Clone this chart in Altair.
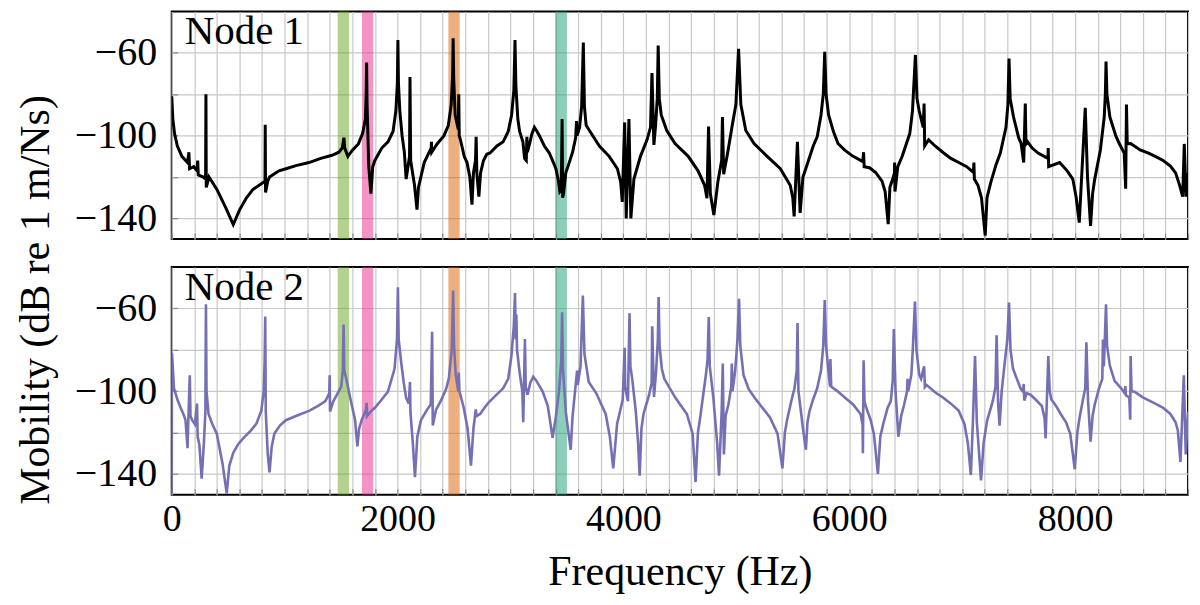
import altair as alt
import pandas as pd

# ---------------- data ----------------
node1_freq = [0, 10, 25, 50, 90, 140, 152, 158, 195, 225, 230, 235, 280, 300, 303, 306, 330, 400, 480, 545,
              600, 662, 720, 800, 826, 828, 831, 850, 866, 950, 1011, 1100, 1216, 1320, 1420, 1480, 1510, 1525, 1532, 1560,
              1600, 1653, 1690, 1715, 1722, 1726, 1730, 1745, 1764, 1780, 1799, 1860, 1915, 1960, 1985, 1998, 2003, 2008, 2020, 2040,
              2060, 2076, 2106, 2110, 2116, 2150, 2172, 2185, 2236, 2280, 2298, 2300, 2303, 2350, 2411, 2450, 2475, 2488, 2492, 2497,
              2510, 2538, 2542, 2546, 2557, 2590, 2615, 2640, 2659, 2672, 2690, 2696, 2702, 2720, 2735, 2761, 2790, 2819, 2880, 2935,
              2980, 3010, 3030, 3040, 3048, 3065, 3081, 3110, 3125, 3140, 3145, 3150, 3169, 3190, 3212, 3235, 3256, 3300, 3344, 3380,
              3402, 3425, 3437, 3450, 3457, 3462, 3470, 3490, 3518, 3550, 3577, 3585, 3590, 3612, 3630, 3645, 3655, 3670, 3699, 3787,
              3874, 3947, 3976, 3990, 4011, 4025, 4049, 4066, 4093, 4151, 4209, 4240, 4253, 4270, 4285, 4300, 4308, 4318, 4335, 4384,
              4457, 4574, 4661, 4719, 4740, 4754, 4770, 4801, 4836, 4870, 4877, 4888, 4923, 4961, 4996, 5020, 5040, 5084, 5157, 5273,
              5390, 5477, 5500, 5512, 5541, 5565, 5590, 5623, 5681, 5716, 5750, 5770, 5783, 5795, 5817, 5860, 5900, 5960, 6034, 6120,
              6127, 6132, 6180, 6234, 6290, 6318, 6345, 6360, 6385, 6400, 6402, 6405, 6430, 6469, 6536, 6560, 6586, 6600, 6619, 6655,
              6663, 6668, 6703, 6760, 6836, 6900, 6970, 7040, 7100, 7104, 7108, 7140, 7171, 7204, 7220, 7254, 7300, 7338, 7388, 7405,
              7415, 7425, 7455, 7500, 7522, 7545, 7559, 7565, 7579, 7620, 7672, 7760, 7762, 7766, 7863, 7930, 7980, 8010, 8037, 8060,
              8090, 8110, 8137, 8155, 8174, 8224, 8258, 8268, 8274, 8282, 8308, 8360, 8391, 8435, 8448, 8455, 8462, 8492, 8576, 8650,
              8710, 8780, 8844, 8890, 8926, 8953, 8967, 8983, 9000]
node1_mob = [-81, -92, -99, -105, -110, -113, -108, -116, -115, -117, -112, -119, -120, -121, -80, -125, -120, -126, -135, -143,
             -136, -130, -126, -123, -122, -94.7, -127.5, -122, -120, -117, -116, -114.5, -113, -111, -109.5, -108, -106, -101, -106, -110,
             -107, -104, -99, -92, -80, -64.7, -85, -115, -128, -115, -112, -106, -103, -98, -88, -75, -53.8, -75, -88, -100,
             -108, -121, -110, -71.7, -112, -124, -135.8, -125, -113, -108, -106, -103, -108, -104, -100, -95, -85, -70, -53, -72,
             -90, -97, -80, -100, -102, -110, -113, -120, -133.4, -118, -112, -100.6, -118, -129.5, -118, -112, -109, -108.4, -105, -103,
             -98, -90, -78, -53.8, -76, -92, -98, -103, -111, -112, -100.6, -108, -104, -99, -96, -98, -100, -105, -108.4, -113,
             -116, -122, -127, -126, -92, -130, -128, -118, -113.4, -108, -101, -93, -100, -96, -86, -55, -86, -95, -97.5, -105,
             -110, -116, -122.5, -132, -93.6, -140, -92, -140, -121, -110, -102, -96, -69.8, -104.5, -95, -82, -56.4, -82, -90, -97.5,
             -103.8, -110, -117, -124, -130.3, -95.6, -128, -138.4, -122.5, -112, -91, -118.6, -108.4, -96, -85, -58, -85, -97.5, -103.8, -110,
             -116, -124, -130, -139, -103, -137.3, -120, -114.7, -105, -100.6, -90, -80, -59.5, -80, -90, -98, -103.8, -107, -110, -112.5,
             -108, -115, -115.5, -117.8, -122, -127, -142.8, -125, -121, -118, -113, -127, -115, -110, -99, -88, -61, -82, -88, -96,
             -84.5, -105, -102, -105, -108.4, -111, -113, -115, -117.8, -113, -121, -124, -130, -148.3, -130, -122.5, -114, -108.4, -96, -85,
             -62.7, -82, -91, -101, -103.8, -113, -84.5, -104, -103, -106, -108.4, -111, -106, -115, -113, -117, -121, -130, -142, -118,
             -86.6, -120, -143.6, -128, -121, -106.9, -91, -80, -64.2, -80, -91, -100, -103.8, -108.4, -125.6, -85, -104, -103.8, -106.9, -108.5,
             -110, -112, -114.7, -118, -124, -129.5, -104, -129.5, -118]

node2_freq = [0, 2, 20, 50, 79, 110, 122, 140, 146, 160, 166, 181, 205, 224, 230, 245, 265, 285, 298, 303,
              308, 326, 360, 399, 450, 487, 510, 545, 590, 633, 700, 749, 793, 815, 823, 828, 833, 850, 866, 885,
              909, 960, 1011, 1100, 1216, 1300, 1361, 1395, 1399, 1402, 1430, 1463, 1501, 1515, 1522, 1528, 1542, 1580, 1624, 1644,
              1660, 1682, 1720, 1726, 1730, 1760, 1799, 1860, 1915, 1973, 1995, 2003, 2010, 2032, 2055, 2076, 2100, 2110, 2114, 2135,
              2154, 2175, 2207, 2260, 2294, 2306, 2312, 2340, 2382, 2430, 2454, 2480, 2492, 2500, 2515, 2538, 2542, 2548, 2586, 2620,
              2650, 2672, 2693, 2700, 2731, 2770, 2804, 2870, 2935, 2980, 3008, 3030, 3040, 3046, 3052, 3058, 3084, 3105, 3113, 3128,
              3135, 3151, 3175, 3201, 3230, 3285, 3330, 3373, 3400, 3430, 3450, 3457, 3465, 3490, 3533, 3550, 3577, 3590, 3595, 3620,
              3641, 3655, 3693, 3760, 3843, 3880, 3910, 3944, 3994, 4011, 4016, 4040, 4054, 4062, 4078, 4110, 4130, 4144, 4160, 4178,
              4228, 4250, 4255, 4271, 4290, 4305, 4312, 4320, 4340, 4362, 4462, 4562, 4613, 4639, 4660, 4680, 4730, 4745, 4756, 4765,
              4797, 4830, 4847, 4870, 4880, 4890, 4905, 4930, 4955, 4960, 4966, 4990, 5010, 5024, 5035, 5064, 5110, 5164, 5298, 5365,
              5408, 5430, 5449, 5490, 5515, 5535, 5542, 5550, 5590, 5616, 5630, 5649, 5680, 5716, 5750, 5770, 5783, 5795, 5815, 5830,
              5833, 5840, 5900, 5960, 6034, 6100, 6118, 6121, 6127, 6135, 6151, 6190, 6218, 6254, 6275, 6301, 6340, 6368, 6385, 6395,
              6410, 6435, 6460, 6486, 6512, 6516, 6522, 6550, 6562, 6582, 6595, 6620, 6636, 6663, 6670, 6686, 6760, 6836, 6900, 6970,
              7020, 7050, 7077, 7095, 7114, 7130, 7167, 7190, 7221, 7271, 7295, 7305, 7318, 7331, 7350, 7371, 7400, 7415, 7428, 7450,
              7472, 7520, 7539, 7545, 7550, 7570, 7605, 7650, 7706, 7730, 7739, 7763, 7775, 7790, 7830, 7873, 7920, 7957, 7997, 8020,
              8040, 8070, 8090, 8100, 8115, 8137, 8155, 8174, 8210, 8241, 8247, 8255, 8265, 8274, 8283, 8308, 8350, 8408, 8440, 8445,
              8450, 8480, 8488, 8492, 8500, 8525, 8600, 8710, 8780, 8844, 8890, 8910, 8933, 8963, 8980, 9000]
node2_mob = [-149.4, -81.4, -98.6, -104, -108, -112, -114, -127.5, -116, -92.3, -112, -114, -116, -106, -122, -126, -142.3, -125, -110, -58,
             -100, -111, -116, -120.5, -135, -149.4, -136, -129.8, -125.5, -122.8, -119, -115.8, -109.5, -100, -85, -63.9, -110, -130, -139.2, -127,
             -120.5, -116.5, -114, -112, -109.5, -107, -104.8, -101, -92.3, -109.8, -105, -101.7, -97.8, -90, -67.8, -90, -93, -103, -114, -126.7,
             -118, -114, -109, -105.6, -112, -110, -108, -104, -100.2, -89.2, -75, -49.8, -75, -86, -96, -103.3, -106, -95.5, -110, -125,
             -141.6, -122, -114, -109, -106.4, -71.3, -116.6, -109, -104.8, -99, -93.9, -80, -51.3, -78, -92, -100, -91, -100, -108, -118,
             -136, -118, -108.8, -112, -111, -108, -105.6, -102, -98.6, -94, -83, -68, -52.5, -75, -63, -80, -92.3, -100, -115, -74.8,
             -98, -101.7, -96, -93, -95, -100.2, -107, -122.5, -113, -100, -85, -61.9, -90, -110, -128.3, -112, -97, -90, -97, -88,
             -53.8, -82, -95.5, -101, -111, -122, -137.3, -115.8, -104, -79, -98, -104.8, -62.3, -88, -94, -110, -125, -140.8, -118, -111,
             -101.7, -96, -68.6, -102.8, -90, -75, -54.5, -78, -89, -94, -103.3, -111, -120.5, -143.9, -120, -112.7, -92.3, -85, -64.2, -88,
             -103.3, -125, -140.8, -110, -86.6, -130.6, -112, -106.4, -98, -86.6, -100, -90, -75, -55.3, -78, -92.3, -99, -103.3, -112.7, -120.5,
             -137.3, -120, -114, -104, -98.6, -90, -67, -100, -118, -128.3, -115, -109.5, -104, -98.6, -90, -78, -55.9, -78, -90, -97.8,
             -84.5, -97.8, -100.2, -103, -106.4, -111, -116, -130, -85, -105, -108, -114, -120.5, -140, -122, -115.8, -108, -104.8, -95, -70,
             -100, -122, -112, -106.4, -100, -94, -100, -92, -80.6, -56.7, -80, -92, -94, -88, -98, -97, -100.5, -103.3, -106, -109.5,
             -115.8, -125, -140.5, -115, -83, -115, -143.1, -125, -114.2, -104.8, -98, -73, -105, -116.6, -100, -89.2, -75, -57.2, -80, -89,
             -92.3, -99, -100.2, -96.5, -104.5, -101, -101.7, -104, -107.2, -113, -122.8, -83, -100, -104, -107, -111, -115, -120.5, -137.7, -120,
             -112.7, -104, -98.6, -76.3, -105, -124.4, -112, -106.4, -99, -94, -75, -88, -72, -58, -78, -87.7, -95, -98.6, -101, -97.5,
             -102, -103, -113.8, -83, -100, -100.2, -103, -106, -108, -111, -115, -119, -134.2, -92.3, -130.6, -110]

band_names = ["band 1", "band 2", "band 3", "band 4"]
band_start = [1470, 1685, 2450, 3395]
band_end = [1570, 1785, 2550, 3500]
band_colors = ["#66a61e", "#e7298a", "#d95f02", "#1b9e77"]

panel_labels = ["Node 1", "Node 2"]
line_colors = ["#000000", "#7570b3"]
line_widths = [3.0, 2.6]
x_ticks = list(range(0, 9001, 200))
y_ticks = [-140, -120, -100, -80, -60]
x_title = "Frequency (Hz)"
y_title = "Mobility (dB re 1 m/Ns)"

# ---------------- chart ----------------
FONT = "Liberation Serif"
FS = 38
W, H = 1018, 228
GAP = 28
TK = 6  # inward tick length

xscale = alt.Scale(domain=[0, 9000], nice=False, zero=False)
yscale = alt.Scale(domain=[-150, -40], nice=False, zero=False)

bands_df = pd.DataFrame({"name": band_names, "f": band_start, "f_end": band_end})


def make_axis_x(show):
    kw = dict(values=x_ticks, format="d", grid=True,
              labelExpr="datum.value % 2000 == 0 ? datum.label : ''",
              offset=-TK, ticks=True, tickSize=TK,
              labelPadding=6, labelFlush=False, labelOverlap=False)
    if show:
        kw.update(labels=True, title=x_title, titlePadding=13, titleFontSize=42)
    else:
        kw.update(labels=False, title=None)
    return alt.Axis(**kw)


axis_y = alt.Axis(values=y_ticks, grid=True, title=None,
                  labelExpr="datum.value % 40 == 0 ? '' : datum.label",
                  offset=-TK, ticks=True, tickSize=TK,
                  labelPadding=15, labelFontSize=40)


def panel(freq, mob, color, width, label, show_x, with_ytitle):
    df = pd.DataFrame({"f": freq, "m": mob, "i": range(len(freq))})
    ax = make_axis_x(show_x)
    bands = alt.Chart(bands_df).mark_rect(opacity=0.5).encode(
        x=alt.X("f:Q", scale=xscale, axis=ax),
        x2="f_end:Q",
        y=alt.value(0),
        y2=alt.value(H),
        color=alt.Color("name:N", scale=alt.Scale(domain=band_names, range=band_colors), legend=None),
    )
    line = alt.Chart(df).mark_line(color=color, strokeWidth=width, clip=True).encode(
        x=alt.X("f:Q", scale=xscale, axis=ax),
        y=alt.Y("m:Q", scale=yscale, axis=axis_y),
        order=alt.Order("i:Q"),
    )
    lab = alt.Chart(pd.DataFrame({"t": [label]})).mark_text(
        font=FONT, fontSize=41, align="left", baseline="alphabetic", color="black"
    ).encode(text="t:N", x=alt.value(13), y=alt.value(33))
    layers = [bands, line, lab]
    if with_ytitle:
        yt = alt.Chart(pd.DataFrame({"t": [y_title]})).mark_text(
            font=FONT, fontSize=42, angle=270, align="center", baseline="middle", color="black"
        ).encode(text="t:N", x=alt.value(-136), y=alt.value(289))
        layers.append(yt)
    return alt.layer(*layers).properties(width=W, height=H)


top = panel(node1_freq, node1_mob, line_colors[0], line_widths[0], panel_labels[0], False, True)
bottom = panel(node2_freq, node2_mob, line_colors[1], line_widths[1], panel_labels[1], True, False)

chart = alt.vconcat(top, bottom, spacing=GAP, bounds="flush").properties(
    padding={"left": 6, "top": 2, "right": 2, "bottom": 0}
).configure_view(
    stroke="black", strokeWidth=2
).configure_axis(
    gridColor="#c8c8c8", gridWidth=1.2, domain=False,
    tickColor="#8a8a8a", tickWidth=1.2,
    labelFont=FONT, labelFontSize=FS, labelColor="black",
    titleFont=FONT, titleFontSize=FS, titleColor="black", titleFontWeight="normal"
)

chart.save("out.html", embed_options={"renderer": "svg", "actions": False})
